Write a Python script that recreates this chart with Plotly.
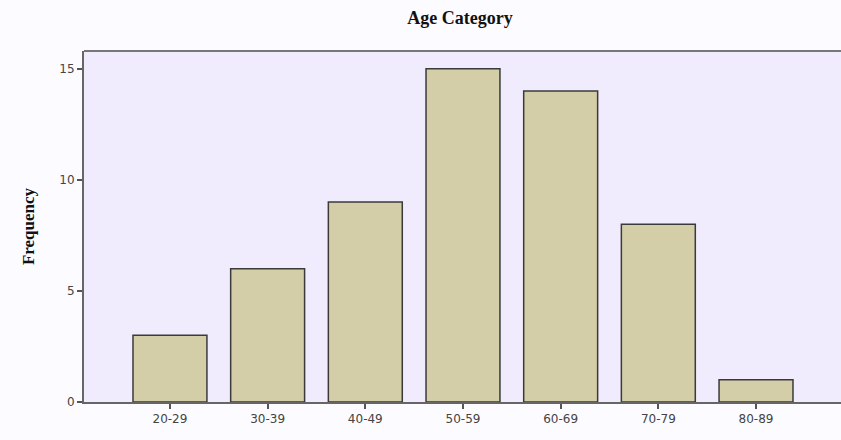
import plotly.graph_objects as go

categories = ["20-29", "30-39", "40-49", "50-59", "60-69", "70-79", "80-89"]
frequency = [3, 6, 9, 15, 14, 8, 1]
y_ticks = [0, 5, 10, 15]

fig = go.Figure(go.Bar(
    x=list(range(len(categories))), y=frequency,
    width=0.757,
    marker=dict(color="#d3cea7", line=dict(color="#3a3a3a", width=1.5)),
))

fig.update_layout(
    width=841, height=440,
    margin=dict(l=84, r=0, t=51, b=38),
    paper_bgcolor="#fcfbff",
    plot_bgcolor="#f1ecfd",
    showlegend=False,
    title=dict(text="<b>Age Category</b>", x=0.547, xanchor="center", y=0.959, yanchor="middle",
               font=dict(family="Liberation Serif", size=18, color="#111")),
)
fig.update_xaxes(
    range=[-0.88, 6.87], tickvals=list(range(len(categories))), ticktext=categories,
    showgrid=False, zeroline=False, showline=True, linecolor="#666", linewidth=2,
    ticks="outside", ticklen=5, tickwidth=2, tickcolor="#555",
    tickfont=dict(family="DejaVu Sans", size=12, color="#444"),
    mirror=False,
)
fig.update_yaxes(
    range=[0, 15.8], tickvals=y_ticks,
    showgrid=False, zeroline=False, showline=True, linecolor="#666", linewidth=2,
    ticks="outside", ticklen=5, tickwidth=2, tickcolor="#555",
    tickfont=dict(family="DejaVu Sans", size=12, color="#444"),
    title=dict(text="<b>Frequency</b>", font=dict(family="Liberation Serif", size=17, color="#111"), standoff=20),
)
# top border line
fig.add_shape(type="line", xref="paper", yref="paper", x0=0, x1=1, y0=1, y1=1,
              line=dict(color="#777", width=2))

fig.write_html("out.html", config={"displayModeBar": False},
               post_script="document.body.style.margin='0';document.body.style.overflow='hidden';")
